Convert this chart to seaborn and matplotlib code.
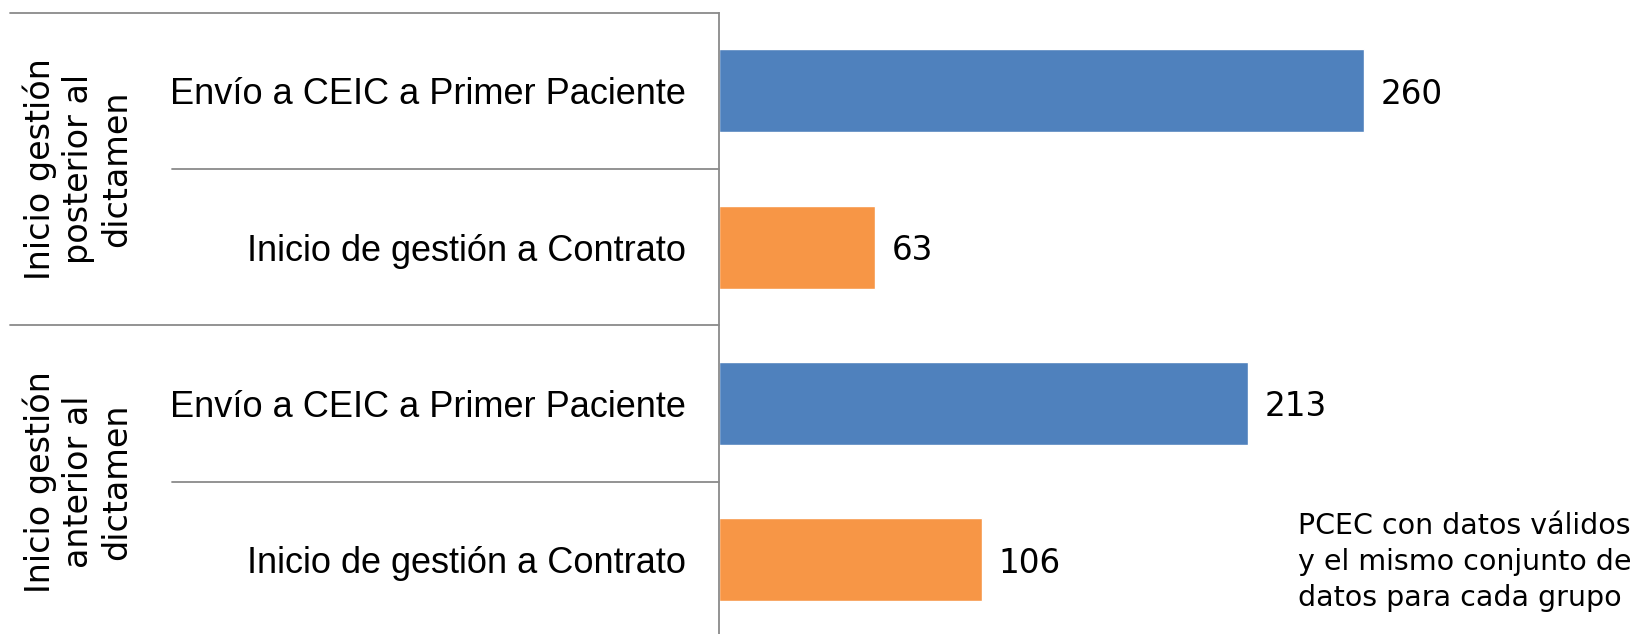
import pandas as pd
import seaborn as sns
import matplotlib.pyplot as plt
import matplotlib.transforms as mtransforms

# data
grupos = ['Inicio gestión\nposterior al\ndictamen', 'Inicio gestión\nanterior al\ndictamen']
categorias = ['Envío a CEIC a Primer Paciente', 'Inicio de gestión a Contrato',
              'Envío a CEIC a Primer Paciente', 'Inicio de gestión a Contrato']
tipos = ['envio', 'inicio', 'envio', 'inicio']
dias = [260, 63, 213, 106]
nota = 'PCEC con datos válidos\ny el mismo conjunto de\ndatos para cada grupo'

df = pd.DataFrame({
    'fila': [f'f{i}' for i in range(len(dias))],
    'categoria': categorias,
    'tipo': tipos,
    'dias': dias,
})

sns.set_style('white')
plt.rcParams['font.family'] = ['DejaVu Sans']
plt.rcParams['text.color'] = 'black'
plt.rcParams['ytick.color'] = 'black'

fig = plt.figure(figsize=(16.35, 6.34), dpi=100)
ax = fig.add_axes([719 / 1635, -4 / 634, 916 / 1635, 625.5 / 634])

sns.barplot(data=df, x='dias', y='fila', hue='tipo', dodge=False, legend=False,
            palette={'envio': '#4F81BD', 'inicio': '#F79646'}, width=0.53,
            saturation=1, ax=ax)

ax.set_xlim(0, 369)
ax.set_ylim(3.5, -0.5)
ax.set_xlabel('')
ax.set_ylabel('')
ax.set_xticks([])
ax.set_yticks(range(len(categorias)))
ax.set_yticklabels(categorias, family='Liberation Sans', fontsize=26, color='black')
ax.tick_params(axis='y', length=0, pad=24)

for s in ['top', 'right', 'bottom']:
    ax.spines[s].set_visible(False)
ax.spines['left'].set_color('#8a8a8a')
ax.spines['left'].set_linewidth(1.3)

for c in ax.containers:
    labels = ax.bar_label(c, fmt='%d', padding=12, fontsize=23.5, color='black')
    for t in labels:
        t.set_va('center_baseline')

# separator lines on the left
trans = mtransforms.blended_transform_factory(ax.transAxes, ax.transData)
x_full = (10 - 719) / 916
x_inner = (172 - 719) / 916
for y, x0 in [(-0.5, x_full), (0.5, x_inner), (1.5, x_full), (2.5, x_inner)]:
    ax.plot([x0, 0], [y, y], color='#8a8a8a', lw=1.3, transform=trans, clip_on=False)

# group labels
for i, g in enumerate(grupos):
    ax.text((78 - 719) / 916, 2 * i + 0.5, g, transform=trans, rotation=90,
            ha='center', va='center', fontsize=24, multialignment='center',
            linespacing=1.2, color='black')

fig.text(1298 / 1635, 1 - 562 / 634, nota, ha='left', va='center', fontsize=20.5,
         linespacing=1.35, color='black')

fig.savefig('out.png', dpi=100)
